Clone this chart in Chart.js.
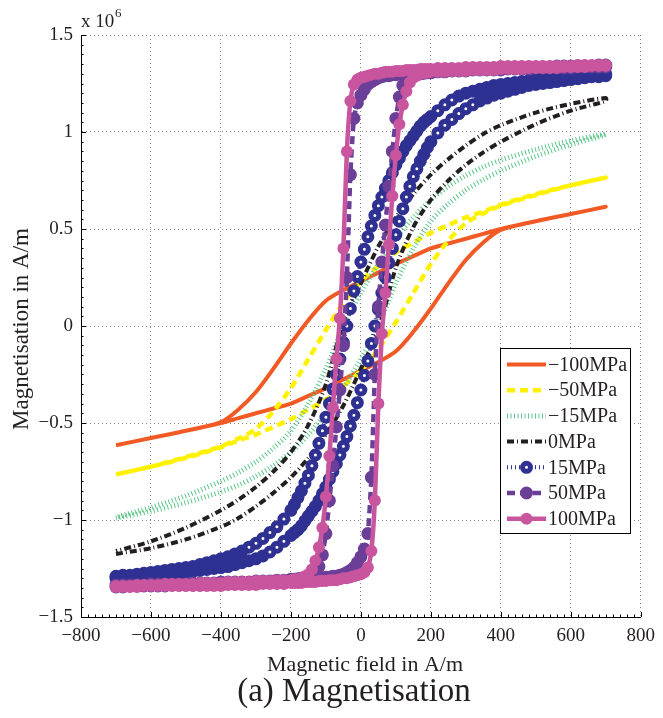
<!DOCTYPE html>
<html>
<head>
<meta charset="utf-8">
<title>Magnetisation</title>
<script src="https://cdn.jsdelivr.net/npm/chart.js@4.4.1/dist/chart.umd.min.js"></script>
<style>
  html, body { margin: 0; padding: 0; background: #fff; }
  #wrap { width: 663px; height: 718px; }
</style>
</head>
<body>
<div id="wrap"><canvas id="mag-chart" width="663" height="718"></canvas></div>
<script>
/* ── Data: magnetisation (x 10^6 A/m) vs. field (A/m) ───────── */

const stressLabels = ['\u2212100MPa', '\u221250MPa', '\u221215MPa', '0MPa', '15MPa', '50MPa', '100MPa'];

// coarse field grid for the plain line loops
const fieldCoarse = [-700, -600, -500, -400, -350, -300, -250, -200, -150, -100, -50, 0,
                     50, 100, 150, 200, 250, 300, 350, 400, 500, 600, 700];

// fine field grid for the loops drawn with markers
const fieldFine = [-700, -680, -660, -640, -620, -600, -580, -560, -540, -520, -500, -480, -460,
                   -440, -420, -400, -380, -360, -340, -320, -300, -280, -260, -240, -220, -200,
                   -190, -180, -170, -160, -150, -140, -130, -120, -110, -100, -90, -80, -70, -60,
                   -50, -40, -30, -20, -10, 0, 10, 20, 30, 40, 50, 60, 70, 80, 90, 100, 110, 120,
                   130, 140, 150, 160, 170, 180, 190, 200, 220, 240, 260, 280, 300, 320, 340, 360,
                   380, 400, 420, 440, 460, 480, 500, 520, 540, 560, 580, 600, 620, 640, 660, 680, 700];

// "up" = rising branch, "down" = falling branch (both listed by increasing field)
const upM100 = [-0.615, -0.577, -0.54, -0.50, -0.475, -0.45, -0.425, -0.40, -0.36, -0.32, -0.275, -0.23,
                -0.185, -0.13, -0.03, 0.09, 0.22, 0.34, 0.43, 0.495, 0.54, 0.577, 0.615];
const downM100 = [-0.615, -0.577, -0.54, -0.495, -0.43, -0.34, -0.22, -0.09, 0.03, 0.13, 0.185, 0.23,
                  0.275, 0.32, 0.36, 0.40, 0.425, 0.45, 0.475, 0.50, 0.54, 0.577, 0.615];

const upM50 = [-0.765, -0.725, -0.68, -0.625, -0.59, -0.56, -0.52, -0.48, -0.43, -0.38, -0.31, -0.23,
               -0.12, 0.02, 0.17, 0.32, 0.44, 0.53, 0.58, 0.62, 0.675, 0.725, 0.765];
const downM50 = [-0.765, -0.725, -0.675, -0.62, -0.58, -0.53, -0.44, -0.32, -0.17, -0.02, 0.12, 0.23,
                 0.31, 0.38, 0.43, 0.48, 0.52, 0.56, 0.59, 0.625, 0.68, 0.725, 0.765];

const upM15 = [-0.99, -0.955, -0.91, -0.855, -0.82, -0.775, -0.72, -0.65, -0.56, -0.45, -0.32, -0.17,
               0.0, 0.22, 0.40, 0.54, 0.63, 0.70, 0.755, 0.80, 0.875, 0.935, 0.985];
const downM15 = [-0.985, -0.935, -0.875, -0.80, -0.755, -0.70, -0.63, -0.54, -0.40, -0.22, 0.0, 0.17,
                 0.32, 0.45, 0.56, 0.65, 0.72, 0.775, 0.82, 0.855, 0.91, 0.955, 0.99];

const up0 = [-1.175, -1.145, -1.10, -1.035, -0.99, -0.93, -0.86, -0.78, -0.68, -0.56, -0.41, -0.22,
             -0.02, 0.30, 0.51, 0.65, 0.75, 0.83, 0.895, 0.95, 1.04, 1.11, 1.16];
const down0 = [-1.16, -1.11, -1.04, -0.95, -0.895, -0.83, -0.75, -0.65, -0.51, -0.30, 0.02, 0.22,
               0.41, 0.56, 0.68, 0.78, 0.86, 0.93, 0.99, 1.035, 1.10, 1.145, 1.175];

const up15 = [-1.30, -1.30, -1.295, -1.295, -1.29, -1.29, -1.285, -1.28, -1.28, -1.275, -1.27, -1.265, -1.26,
              -1.255, -1.25, -1.245, -1.24, -1.23, -1.22, -1.21, -1.20, -1.185, -1.165, -1.14, -1.11, -1.08,
              -1.065, -1.05, -1.03, -1.005, -0.98, -0.955, -0.93, -0.9, -0.865, -0.83,
              -0.79, -0.75, -0.71, -0.665, -0.62, -0.57, -0.515, -0.46, -0.395, -0.33,
              -0.255, -0.18, -0.09, 0.0, 0.085, 0.17, 0.25, 0.325, 0.4, 0.47, 0.54, 0.605, 0.665, 0.72,
              0.77, 0.81, 0.85, 0.885, 0.92,
              0.95, 0.995, 1.035, 1.065, 1.095, 1.12, 1.14, 1.16, 1.175, 1.19, 1.20, 1.21, 1.22,
              1.23, 1.24, 1.245, 1.25, 1.255, 1.26, 1.265, 1.27, 1.275, 1.28, 1.285, 1.285, 1.29];
const down15 = [-1.29, -1.285, -1.285, -1.28, -1.275, -1.27, -1.265, -1.26, -1.255, -1.25, -1.245, -1.24, -1.23,
                -1.22, -1.21, -1.20, -1.19, -1.175, -1.16, -1.14, -1.12, -1.095, -1.065, -1.035, -0.995, -0.95,
                -0.92, -0.885, -0.85, -0.81, -0.77, -0.72, -0.665, -0.605, -0.54, -0.47,
                -0.4, -0.325, -0.25, -0.17, -0.085, 0.0, 0.09, 0.18, 0.255, 0.33,
                0.395, 0.46, 0.515, 0.57, 0.62, 0.665, 0.71, 0.75, 0.79, 0.83, 0.865, 0.9, 0.93, 0.955,
                0.98, 1.005, 1.03, 1.05, 1.065,
                1.08, 1.11, 1.14, 1.165, 1.185, 1.20, 1.21, 1.22, 1.23, 1.24, 1.245, 1.25, 1.255,
                1.26, 1.265, 1.27, 1.275, 1.28, 1.28, 1.285, 1.29, 1.29, 1.295, 1.295, 1.30, 1.30];

const up50 = [-1.345, -1.345, -1.34, -1.34, -1.34, -1.34, -1.34, -1.34, -1.335, -1.335, -1.335, -1.335, -1.335,
              -1.33, -1.33, -1.33, -1.33, -1.325, -1.325, -1.325, -1.32, -1.32, -1.32, -1.315, -1.315, -1.31,
              -1.31, -1.31, -1.305, -1.305, -1.305, -1.3, -1.3, -1.3, -1.3, -1.295,
              -1.295, -1.29, -1.29, -1.285, -1.28, -1.27, -1.26, -1.245, -1.22, -1.19,
              -1.15, -1.07, -0.78, -0.25, 0.1, 0.33, 0.52, 0.72, 0.9, 1.07, 1.18, 1.24, 1.27, 1.285,
              1.292, 1.297, 1.3, 1.303, 1.305,
              1.305, 1.31, 1.31, 1.315, 1.315, 1.315, 1.32, 1.32, 1.32, 1.32, 1.32, 1.325, 1.325,
              1.325, 1.325, 1.33, 1.33, 1.33, 1.33, 1.33, 1.33, 1.335, 1.335, 1.335, 1.335, 1.335];
const down50 = [-1.335, -1.335, -1.335, -1.335, -1.335, -1.33, -1.33, -1.33, -1.33, -1.33, -1.33, -1.325, -1.325,
                -1.325, -1.325, -1.32, -1.32, -1.32, -1.32, -1.32, -1.315, -1.315, -1.315, -1.31, -1.31, -1.305,
                -1.305, -1.303, -1.3, -1.297, -1.292, -1.285, -1.27, -1.24, -1.18, -1.07,
                -0.9, -0.72, -0.52, -0.33, -0.1, 0.25, 0.78, 1.07, 1.15, 1.19,
                1.22, 1.245, 1.26, 1.27, 1.28, 1.285, 1.29, 1.29, 1.295, 1.295, 1.3, 1.3, 1.3, 1.3,
                1.305, 1.305, 1.305, 1.31, 1.31,
                1.31, 1.315, 1.315, 1.32, 1.32, 1.32, 1.325, 1.325, 1.325, 1.33, 1.33, 1.33, 1.33,
                1.335, 1.335, 1.335, 1.335, 1.335, 1.34, 1.34, 1.34, 1.34, 1.34, 1.34, 1.345, 1.345];

const up100 = [-1.345, -1.345, -1.345, -1.345, -1.34, -1.34, -1.34, -1.34, -1.34, -1.34, -1.34, -1.34, -1.34,
               -1.34, -1.34, -1.34, -1.335, -1.335, -1.335, -1.335, -1.335, -1.33, -1.33, -1.33, -1.33, -1.325,
               -1.325, -1.325, -1.325, -1.32, -1.32, -1.32, -1.32, -1.315, -1.315, -1.315,
               -1.31, -1.31, -1.31, -1.305, -1.3, -1.3, -1.295, -1.29, -1.285, -1.28,
               -1.27, -1.245, -1.16, -0.9, -0.4, -0.04, 0.17, 0.42, 0.67, 0.88, 1.04, 1.14, 1.21, 1.255,
               1.28, 1.29, 1.3, 1.305, 1.305,
               1.31, 1.31, 1.31, 1.315, 1.315, 1.315, 1.32, 1.32, 1.32, 1.32, 1.325, 1.325, 1.325,
               1.325, 1.33, 1.33, 1.33, 1.33, 1.33, 1.335, 1.335, 1.335, 1.335, 1.34, 1.34, 1.34];
const down100 = [-1.34, -1.34, -1.34, -1.335, -1.335, -1.335, -1.335, -1.33, -1.33, -1.33, -1.33, -1.33, -1.325,
                 -1.325, -1.325, -1.325, -1.32, -1.32, -1.32, -1.32, -1.315, -1.315, -1.315, -1.31, -1.31, -1.31,
                 -1.305, -1.305, -1.3, -1.29, -1.28, -1.255, -1.21, -1.14, -1.04, -0.88,
                 -0.67, -0.42, -0.17, 0.04, 0.4, 0.9, 1.16, 1.245, 1.27, 1.28,
                 1.285, 1.29, 1.295, 1.3, 1.3, 1.305, 1.31, 1.31, 1.31, 1.315, 1.315, 1.315, 1.32, 1.32,
                 1.32, 1.32, 1.325, 1.325, 1.325,
                 1.325, 1.33, 1.33, 1.33, 1.33, 1.335, 1.335, 1.335, 1.335, 1.335, 1.34, 1.34, 1.34,
                 1.34, 1.34, 1.34, 1.34, 1.34, 1.34, 1.34, 1.34, 1.345, 1.345, 1.345, 1.345, 1.345];

const fieldTicks = [-800, -600, -400, -200, 0, 200, 400, 600, 800];
const magTicks   = [-1.5, -1, -0.5, 0, 0.5, 1, 1.5];

/* ── Helpers ────────────────────────────────────────────────── */
const INK  = '#231F20';
const SERIF = '"Liberation Serif", "Times New Roman", serif';

// rising branch left to right, then falling branch right to left
function loop(field, up, down) {
  const pts = field.map((h, i) => ({ x: h, y: up[i] }));
  for (let i = field.length - 1; i >= 0; i--) pts.push({ x: field[i], y: down[i] });
  return pts;
}

const minus = v => (v < 0 ? '\u2212' + Math.abs(v) : String(v));

// pixel distance to the closest neighbouring sample
function neighbourGap(ctx) {
  const { x, y } = ctx.chart.scales;
  const d = ctx.dataset.data, i = ctx.dataIndex;
  if (!x || !y || !d[i]) return 99;
  const dist = q => q ? Math.hypot(x.getPixelForValue(q.x) - x.getPixelForValue(d[i].x),
                                   y.getPixelForValue(q.y) - y.getPixelForValue(d[i].y)) : 99;
  return Math.min(dist(d[i - 1]), dist(d[i + 1]));
}

function lineSet(i, field, up, down, color, width, dash) {
  return {
    label: stressLabels[i],
    data: loop(field, up, down),
    borderColor: color,
    borderWidth: width,
    borderDash: dash,
    borderCapStyle: 'butt',
    borderJoinStyle: 'round',
    pointRadius: 0,
    tension: 0.3,
    order: 6 - i          // later stress levels sit on top
  };
}

function markerSet(i, field, up, down, color, width, dash, radius, fill, ring) {
  return Object.assign(lineSet(i, field, up, down, color, width, dash), {
    pointRadius: radius,
    pointBackgroundColor: fill,
    pointBorderColor: color,
    pointBorderWidth: ring,
    tension: 0.2
  });
}

/* ── Axes furniture, titles and legend ──────────────────────── */
const decorations = {
  id: 'decorations',
  afterDraw(chart) {
    const { ctx, chartArea: a, scales: { x, y } } = chart;
    ctx.save();

    // inward ticks on left and bottom axes
    ctx.strokeStyle = '#000';
    ctx.lineWidth = 1;
    ctx.beginPath();
    for (let h = -800; h <= 800; h += 20) {
      const px = Math.round(x.getPixelForValue(h)) + 0.5;
      const len = h % 200 === 0 ? 5 : 2.5;
      ctx.moveTo(px, a.bottom); ctx.lineTo(px, a.bottom - len);
    }
    for (let k = -30; k <= 30; k++) {
      const py = Math.round(y.getPixelForValue(k * 0.05)) + 0.5;
      const len = k % 10 === 0 ? 5 : 2.5;
      ctx.moveTo(a.left, py); ctx.lineTo(a.left + len, py);
    }
    ctx.stroke();

    // exponent marker
    ctx.fillStyle = INK;
    ctx.textAlign = 'left';
    ctx.textBaseline = 'alphabetic';
    ctx.font = '19px ' + SERIF;
    ctx.fillText('x 10', 81, 27);
    ctx.font = '13px ' + SERIF;
    ctx.fillText('6', 115, 17);

    // axis titles
    ctx.textAlign = 'center';
    ctx.font = '22px ' + SERIF;
    ctx.fillText('Magnetic field in A/m', 365, 671);
    ctx.save();
    ctx.translate(28, 329);
    ctx.rotate(-Math.PI / 2);
    ctx.font = '23px ' + SERIF;
    ctx.fillText('Magnetisation in A/m', 0, 0);
    ctx.restore();

    // caption
    ctx.font = '33px ' + SERIF;
    ctx.fillText('(a) Magnetisation', 354, 701);

    // legend box
    const bx = 500.5, by = 348.5, bw = 130, bh = 185;
    ctx.fillStyle = '#fff';
    ctx.fillRect(bx, by, bw, bh);
    ctx.strokeStyle = '#000';
    ctx.lineWidth = 1;
    ctx.strokeRect(bx, by, bw, bh);

    chart.data.datasets.forEach((ds, i) => {
      const ly = 364.5 + i * 25.7;
      ctx.beginPath();
      ctx.setLineDash(ds.borderDash || []);
      ctx.lineCap = 'butt';
      ctx.strokeStyle = ds.borderColor;
      ctx.lineWidth = ds.borderWidth;
      ctx.moveTo(507, ly);
      ctx.lineTo(546, ly);
      ctx.stroke();
      ctx.setLineDash([]);
      if (ds.pointRadius > 0) {
        ctx.beginPath();
        ctx.arc(526.5, ly, ds.pointRadius, 0, Math.PI * 2);
        ctx.fillStyle = ds.legendFill || ds.pointBackgroundColor;
        ctx.fill();
        if (ds.pointBorderWidth > 0) {
          ctx.lineWidth = ds.pointBorderWidth;
          ctx.strokeStyle = ds.pointBorderColor;
          ctx.stroke();
        }
      }
      ctx.fillStyle = INK;
      ctx.font = '20px ' + SERIF;
      ctx.textAlign = 'left';
      ctx.textBaseline = 'middle';
      ctx.fillText(ds.label, 548, ly + 1);
    });

    ctx.restore();
  }
};

/* ── Chart ──────────────────────────────────────────────────── */
Chart.defaults.font.family = SERIF;
Chart.defaults.color = INK;

const BLUE = '#2E3192';

// ring markers: where samples crowd together they merge into a solid band
const ringed = markerSet(4, fieldFine, up15, down15, BLUE, 4, [1, 3], 4, '#ffffff', 5);
ringed.legendFill = '#ffffff';
ringed.pointBackgroundColor = ctx => (neighbourGap(ctx) < 8 ? BLUE : '#ffffff');

const datasets = [
  lineSet(0, fieldCoarse, upM100, downM100, '#F15A24', 4, []),
  lineSet(1, fieldCoarse, upM50, downM50, '#FFF200', 4.5, [8, 5]),
  lineSet(2, fieldCoarse, upM15, downM15, '#5DC58A', 5, [1, 2.5]),
  lineSet(3, fieldCoarse, up0, down0, INK, 4, [7, 3, 1, 3]),
  ringed,
  markerSet(5, fieldFine, up50, down50, '#6B3F98', 4.5, [8, 5], 6.5, '#6B3F98', 0),
  markerSet(6, fieldFine, up100, down100, '#C8559E', 4.5, [], 6, '#C8559E', 0)
];

new Chart(document.getElementById('mag-chart'), {
  type: 'line',
  data: { datasets },
  options: {
    responsive: false,
    animation: false,
    events: [],
    layout: { padding: { top: 35, right: 18, left: 0, bottom: 0 } },
    plugins: { legend: { display: false }, tooltip: { enabled: false } },
    scales: {
      x: {
        type: 'linear',
        min: -800, max: 800,
        afterBuildTicks: s => { s.ticks = fieldTicks.map(v => ({ value: v })); },
        ticks: { font: { size: 19 }, color: INK, padding: 8, maxRotation: 0, autoSkip: false,
                 callback: v => minus(v) },
        grid: { color: '#8a8a8a', lineWidth: 1, drawTicks: false },
        border: { display: true, color: '#000', width: 1, dash: [1, 3] },
        afterFit: s => { s.height = 101; }
      },
      y: {
        type: 'linear',
        min: -1.5, max: 1.5,
        afterBuildTicks: s => { s.ticks = magTicks.map(v => ({ value: v })); },
        ticks: { font: { size: 19 }, color: INK, padding: 8, autoSkip: false,
                 callback: v => minus(Math.round(v * 10) / 10) },
        grid: { color: '#8a8a8a', lineWidth: 1, drawTicks: false },
        border: { display: true, color: '#000', width: 1, dash: [1, 3] },
        afterFit: s => { s.width = 81; }
      }
    }
  },
  plugins: [decorations]
});
</script>
</body>
</html>
